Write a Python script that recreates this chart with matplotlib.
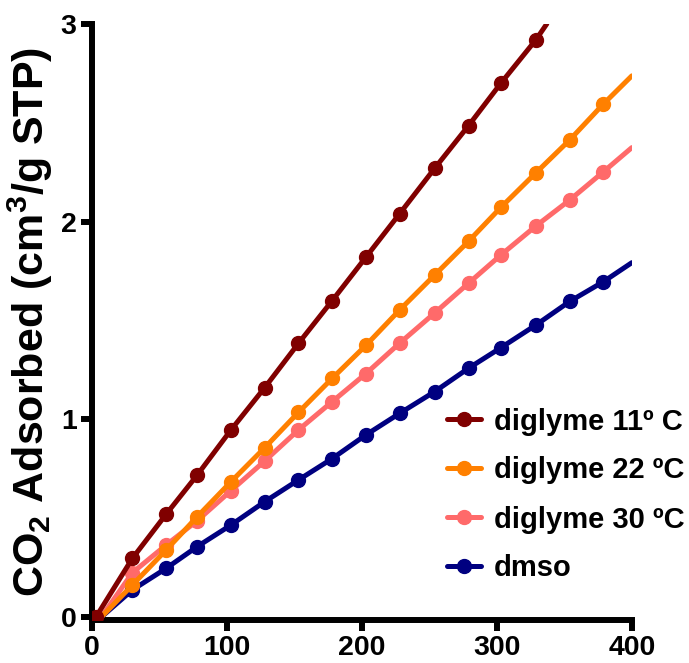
import matplotlib.pyplot as plt

plt.rcParams['font.family'] = ['Liberation Sans', 'DejaVu Sans']
plt.rcParams['font.weight'] = 'bold'
plt.rcParams['mathtext.fontset'] = 'custom'
plt.rcParams['mathtext.rm'] = 'Liberation Sans:bold'
plt.rcParams['mathtext.bf'] = 'Liberation Sans:bold'

# x in s, y in cm3/g STP
x = [30, 55, 78, 103, 128, 153, 178, 203, 228, 254, 279, 303, 329, 354, 379]

d11_x = [3] + x[:13]
d11_y = [0.0, 0.297, 0.52, 0.718, 0.946, 1.16, 1.384, 1.60, 1.82, 2.04, 2.27, 2.485, 2.70, 2.92]
d11_end = (337, 3.0)

d22_x = [7] + x
d22_y = [0.0, 0.162, 0.339, 0.507, 0.684, 0.856, 1.035, 1.207, 1.374, 1.553, 1.73, 1.90,
         2.072, 2.247, 2.413, 2.595]
d22_end = (400, 2.737)

d30_x = [7] + x
d30_y = [0.0, 0.224, 0.364, 0.487, 0.639, 0.789, 0.946, 1.089, 1.231, 1.385, 1.538, 1.688,
         1.831, 1.978, 2.109, 2.252]
d30_end = (400, 2.374)

dmso_x = [7] + x
dmso_y = [0.0, 0.137, 0.246, 0.356, 0.465, 0.583, 0.693, 0.801, 0.921, 1.03, 1.14, 1.258,
          1.362, 1.477, 1.596, 1.696]
dmso_end = (400, 1.792)

series = [
    (d11_x, d11_y, d11_end, '#800000', 'diglyme 11º C'),
    (d22_x, d22_y, d22_end, '#FF8000', 'diglyme 22 ºC'),
    (d30_x, d30_y, d30_end, '#FF6A6A', 'diglyme 30 ºC'),
    (dmso_x, dmso_y, dmso_end, '#000080', 'dmso'),
]

fig = plt.figure(figsize=(6.89, 6.63), dpi=100)
ax = fig.add_axes([0.1335, 0.065, 0.7835, 0.899])

for i, (sx, sy, end, col, lab) in enumerate(series):
    z = 3 - i * 0.1
    ax.plot(sx + [end[0]], sy + [end[1]], color=col, lw=3.6, solid_capstyle='round', zorder=z)
    # first point of the diglyme 22/30 and dmso runs is hidden under the line start
    start = 0 if i == 0 else 1
    ax.plot(sx[start:], sy[start:], color=col, lw=0, marker='o', ms=10, zorder=z + 0.05)

# legend handles
handles = []
for sx, sy, end, col, lab in series:
    h, = ax.plot([], [], color=col, lw=3.6, marker='o', ms=10, solid_capstyle='round')
    handles.append(h)
leg = fig.legend(handles, [s[4] for s in series], loc='center left',
                 bbox_to_anchor=(447 / 689, 1 - 495 / 663), bbox_transform=fig.transFigure,
                 frameon=False, fontsize=21, handlelength=1.15, handletextpad=0.45,
                 labelspacing=0.72, borderpad=0, borderaxespad=0)

ax.set_xlim(0, 400)
ax.set_ylim(-0.015, 3)
ax.set_xticks([0, 100, 200, 300, 400])
ax.set_yticks([0, 1, 2, 3])
for s in ['top', 'right']:
    ax.spines[s].set_visible(False)
for s in ['left', 'bottom']:
    ax.spines[s].set_linewidth(4.3)
ax.tick_params(width=4.3, length=8, labelsize=20.5, pad=3)
ax.set_ylabel(r'CO$_2$ Adsorbed (cm$^3$/g STP)', fontsize=31, fontweight='bold', labelpad=4)

fig.savefig('out.png', dpi=100)
